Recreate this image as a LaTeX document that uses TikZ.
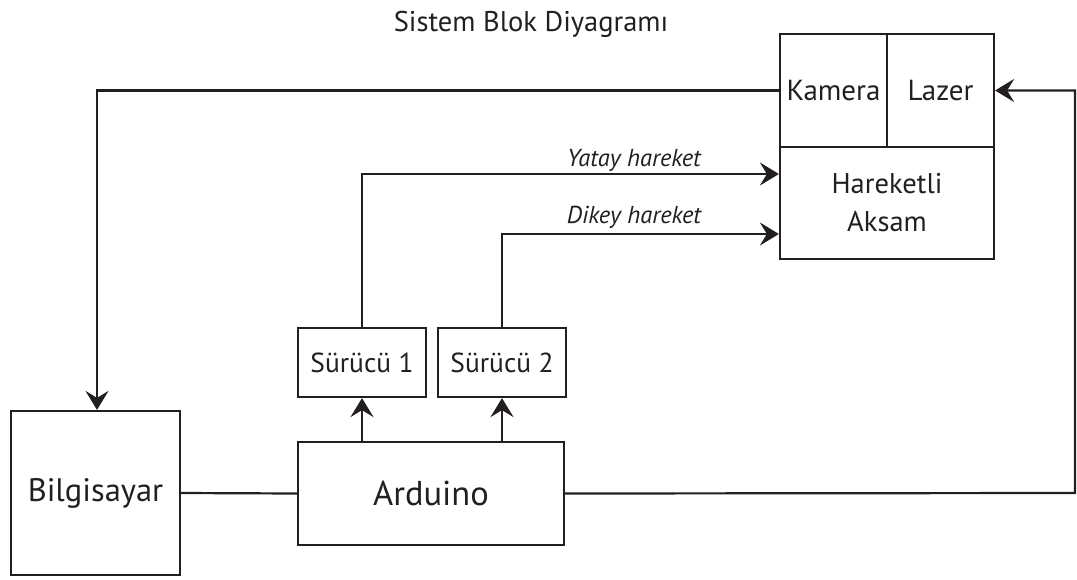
\documentclass[tikz,border=0pt]{standalone}
\usepackage{fontspec}
\setmainfont{PT Sans}
\usetikzlibrary{arrows.meta}
\definecolor{ink}{HTML}{231F20}
\begin{document}
\begin{tikzpicture}[x=1pt,y=-1pt,
  box/.style={draw=ink,line width=2.2pt,rectangle,inner sep=0pt,text=ink,align=center},
  conn/.style={draw=ink,line width=2.2pt},
  arr/.style={conn,-{Stealth[length=19pt,width=23pt,inset=7pt]}},
  lbl/.style={text=ink,inner sep=0pt,font=\itshape\fontsize{24.5}{26}\selectfont}]
\useasboundingbox (0,0) rectangle (1077,579);
\node[text=ink,inner sep=0pt,font=\fontsize{28.5}{30}\selectfont] (title) at (531,24) {Sistem Blok Diyagramı};
\node[box,minimum width=107pt,minimum height=113pt,font=\fontsize{29}{30}\selectfont] (kam) at (833.5,90.5) {Kamera};
\node[box,minimum width=107pt,minimum height=113pt,font=\fontsize{29}{30}\selectfont] (laz) at (940.5,90.5) {Lazer};
\node[box,minimum width=214pt,minimum height=112pt,font=\fontsize{28.5}{38}\selectfont] (hak) at (887,203) {Hareketli\\Aksam};
\node[box,minimum width=128pt,minimum height=69pt,font=\fontsize{27.5}{30}\selectfont] (s1) at (362,362.5) {Sürücü 1};
\node[box,minimum width=128pt,minimum height=69pt,font=\fontsize{27.5}{30}\selectfont] (s2) at (502,362.5) {Sürücü 2};
\node[box,minimum width=266pt,minimum height=103pt,font=\fontsize{34.5}{36}\selectfont] (ard) at (431,493.5) {Arduino};
\node[box,minimum width=169pt,minimum height=164pt,font=\fontsize{32.5}{34}\selectfont] (bil) at (95.5,493) {Bilgisayar};
\coordinate (rc) at (1075,493);
\coordinate (lc) at (97,90.5);
\draw[arr] (kam.west) -- (lc) -- (bil.north -| lc);
\draw[conn] (bil.east) -- (ard.west);
\draw[arr] (ard.east) -- (rc) |- (laz.east);
\draw[arr] (s1.south |- ard.north) -- (s1.south);
\draw[arr] (s2.south |- ard.north) -- (s2.south);
\draw[arr] (s1.north) |- (hak.west |- 0,174);
\draw[arr] (s2.north) |- (hak.west |- 0,234);
\node[lbl] (yl) at (634,160) {Yatay hareket};
\node[lbl] (dl) at (634,217) {Dikey hareket};
\end{tikzpicture}
\end{document}
